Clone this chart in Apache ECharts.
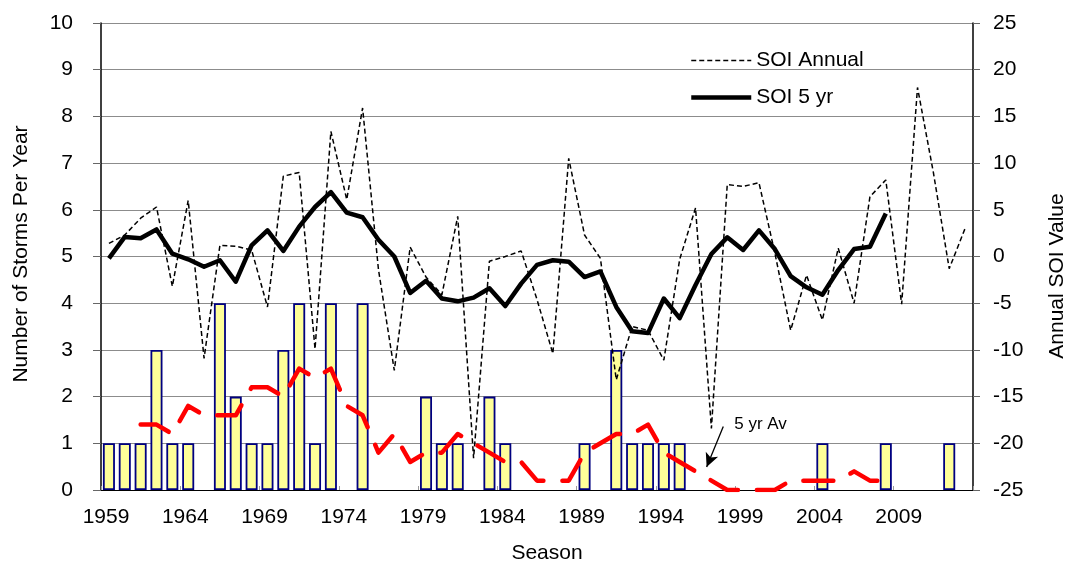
<!DOCTYPE html>
<html>
<head>
<meta charset="utf-8">
<script src="https://cdn.jsdelivr.net/npm/echarts@6/dist/echarts.min.js"></script>
<style>
  html, body { margin: 0; padding: 0; background: #fff; }
  #chart { width: 1076px; height: 565px; }
</style>
</head>
<body>
<div id="chart"></div>
<script>
// Seasons shown on the x axis
const FIRST_YEAR = 1959;
const LAST_YEAR = 2013;

// Number of storms per season, 1959-2013
const storms = [
  1, 1, 1, 3, 1, 1, 0, 4, 2, 1,
  1, 3, 4, 1, 4, 0, 4, 0, 0, 0,
  2, 1, 1, 0, 2, 1, 0, 0, 0, 0,
  1, 0, 3, 1, 1, 1, 1, 0, 0, 0,
  0, 0, 0, 0, 0, 1, 0, 0, 0, 1,
  0, 0, 0, 1, 0
];

// Annual SOI value, 1959-2013
const soiAnnual = [
  1.4, 2.3, 4.1, 5.3, -3.2, 6.0, -10.9, 1.2, 1.1, 0.7,
  -5.4, 8.6, 9.0, -9.9, 13.4, 6.1, 15.9, -1.4, -12.2, 1.0,
  -2.2, -4.1, 4.3, -21.6, -0.5, 0.0, 0.6, -4.6, -10.4, 10.5,
  2.3, -0.2, -13.2, -7.5, -7.9, -11.1, -0.3, 5.2, -18.4, 7.7,
  7.5, 7.9, 0.4, -7.9, -2.0, -6.8, 0.9, -5.0, 6.4, 8.2,
  -5.1, 18.1, 9.0, -1.3, 3.0
];

// 5-year SOI, 1959-2008
const soi5yr = [
  -0.2, 2.1, 1.95, 2.9, 0.3, -0.3, -1.1, -0.4, -2.7, 1.2,
  2.8, 0.6, 3.2, 5.3, 6.9, 4.7, 4.2, 1.8, 0.0, -3.9,
  -2.6, -4.5, -4.8, -4.4, -3.4, -5.3, -2.9, -0.9, -0.4, -0.55,
  -2.2, -1.6, -5.4, -8.0, -8.2, -4.5, -6.6, -3.05, 0.27, 2.05,
  0.7, 2.8, 0.8, -2.1, -3.3, -4.1, -1.45, 0.8, 1.05, 4.6
];

// 5-year average storms per season, 1961-2008
const AV_FIRST_YEAR = 1961;
const storms5yr = [
  1.4, 1.4, 1.2, 1.8, 1.6, 1.6, 1.6, 2.2, 2.2, 2.0,
  2.6, 2.4, 2.6, 1.8, 1.6, 0.8, 1.2, 0.6, 0.8, 0.8,
  1.2, 1.0, 0.8, 0.6, 0.6, 0.2, 0.2, 0.2, 0.8, 1.0,
  1.2, 1.2, 1.4, 0.8, 0.6, 0.4, 0.2, 0, 0, 0,
  0, 0.2, 0.2, 0.2, 0.2, 0.4, 0.2, 0.2
];

// Tick labels
const leftTicks = { min: 0, max: 10, step: 1 };
const rightTicks = { min: -25, max: 25, step: 5 };
const yearStep = 5;

const FONT = '"Liberation Sans", Arial, sans-serif';
const SPAN = LAST_YEAR - FIRST_YEAR + 1;

// x position of a season: centre of its slot on the value axis
const slot = (year) => year - FIRST_YEAR + 0.5;

const barData = storms.map((v, i) => [slot(FIRST_YEAR + i), v === 0 ? '-' : v]);
const soiAnnualData = soiAnnual.map((v, i) => [slot(FIRST_YEAR + i), v]);
const soi5Data = soi5yr.map((v, i) => [slot(FIRST_YEAR + i), v]);
const avData = storms5yr.map((v, i) => [slot(AV_FIRST_YEAR + i), v]);

const chart = echarts.init(document.getElementById('chart'), null, { renderer: 'canvas' });

chart.setOption({
  animation: false,
  backgroundColor: '#ffffff',
  textStyle: { fontFamily: FONT },
  grid: { left: 101, right: 103, top: 23, bottom: 75, containLabel: false },
  legend: {
    data: [
      { name: 'SOI Annual', lineStyle: { width: 1.5, type: [5, 3], color: '#000' } },
      { name: 'SOI 5 yr', lineStyle: { width: 4.5, type: 'solid', color: '#000' } }
    ],
    orient: 'vertical',
    left: 684,
    top: 45,
    itemWidth: 60,
    itemHeight: 14,
    itemGap: 16,
    itemStyle: { opacity: 0 },
    textStyle: { fontFamily: FONT, fontSize: 21, color: '#000' },
    selectedMode: false
  },
  xAxis: {
    type: 'value',
    min: 0,
    max: SPAN,
    interval: yearStep,
    axisLine: { show: true, lineStyle: { color: '#000', width: 1.2 } },
    axisTick: { show: true, inside: true, length: 4, lineStyle: { color: '#999' } },
    splitLine: { show: false },
    axisLabel: {
      fontFamily: FONT,
      fontSize: 21,
      color: '#000',
      margin: 17,
      padding: [0, 0, 0, 10],
      formatter: (v) => (v < SPAN - 0.5 ? String(FIRST_YEAR + v) : '')
    }
  },
  yAxis: [
    {
      type: 'value',
      min: leftTicks.min,
      max: leftTicks.max,
      interval: leftTicks.step,
      position: 'left',
      axisLine: { show: true, lineStyle: { color: '#000', width: 1.5 } },
      axisTick: { show: true, length: 8, lineStyle: { color: '#666' } },
      splitLine: { show: true, lineStyle: { color: '#8c8c8c', width: 1 } },
      axisLabel: { fontFamily: FONT, fontSize: 21, color: '#000', margin: 28 }
    },
    {
      type: 'value',
      min: rightTicks.min,
      max: rightTicks.max,
      interval: rightTicks.step,
      position: 'right',
      axisLine: { show: true, lineStyle: { color: '#000', width: 1.5 } },
      axisTick: { show: true, length: 7, lineStyle: { color: '#666' } },
      splitLine: { show: false },
      axisLabel: { fontFamily: FONT, fontSize: 21, color: '#000', margin: 20 }
    }
  ],
  graphic: [
    {
      type: 'text', x: 21, y: 254, rotation: Math.PI / 2,
      style: { text: 'Number of Storms Per Year', font: '21px ' + FONT, fill: '#000',
               textAlign: 'center', textVerticalAlign: 'middle' }
    },
    {
      type: 'text', x: 1057, y: 276, rotation: Math.PI / 2,
      style: { text: 'Annual SOI Value', font: '21px ' + FONT, fill: '#000',
               textAlign: 'center', textVerticalAlign: 'middle' }
    },
    {
      type: 'text', x: 547, y: 553,
      style: { text: 'Season', font: '21px ' + FONT, fill: '#000',
               textAlign: 'center', textVerticalAlign: 'middle' }
    }
  ],
  series: [
    {
      name: 'Storms',
      type: 'bar',
      yAxisIndex: 0,
      data: barData,
      barWidth: 12,
      itemStyle: { color: '#FFFF99', borderColor: '#000080', borderWidth: 1.8 },
      z: 1
    },
    {
      name: 'SOI Annual',
      type: 'line',
      yAxisIndex: 1,
      data: soiAnnualData,
      symbol: 'none',
      lineStyle: { color: '#000', width: 1.5, type: [5, 3] },
      itemStyle: { color: '#000' },
      z: 3
    },
    {
      name: 'SOI 5 yr',
      type: 'line',
      yAxisIndex: 1,
      data: soi5Data,
      symbol: 'none',
      lineStyle: { color: '#000', width: 4.5, join: 'round' },
      itemStyle: { color: '#000' },
      z: 4
    },
    {
      name: '5 yr Av',
      type: 'line',
      yAxisIndex: 0,
      data: avData,
      symbol: 'none',
      lineStyle: { color: '#ff0000', width: 4.5, type: [30, 19], cap: 'round', join: 'round' },
      itemStyle: { color: '#ff0000' },
      z: 5,
      markLine: {
        silent: true,
        symbol: ['none', 'arrow'],
        symbolSize: [10, 14],
        lineStyle: { color: '#000', width: 1.3, type: 'solid' },
        label: { show: false },
        data: [[{ coord: [39.25, 1.36] }, { coord: [38.2, 0.49] }]]
      },
      markPoint: {
        silent: true,
        symbol: 'circle',
        symbolSize: 0,
        label: {
          show: true, position: 'inside', formatter: '5 yr Av',
          fontFamily: FONT, fontSize: 17, color: '#000'
        },
        data: [{ coord: [41.6, 1.4] }]
      }
    }
  ]
});
</script>
</body>
</html>
